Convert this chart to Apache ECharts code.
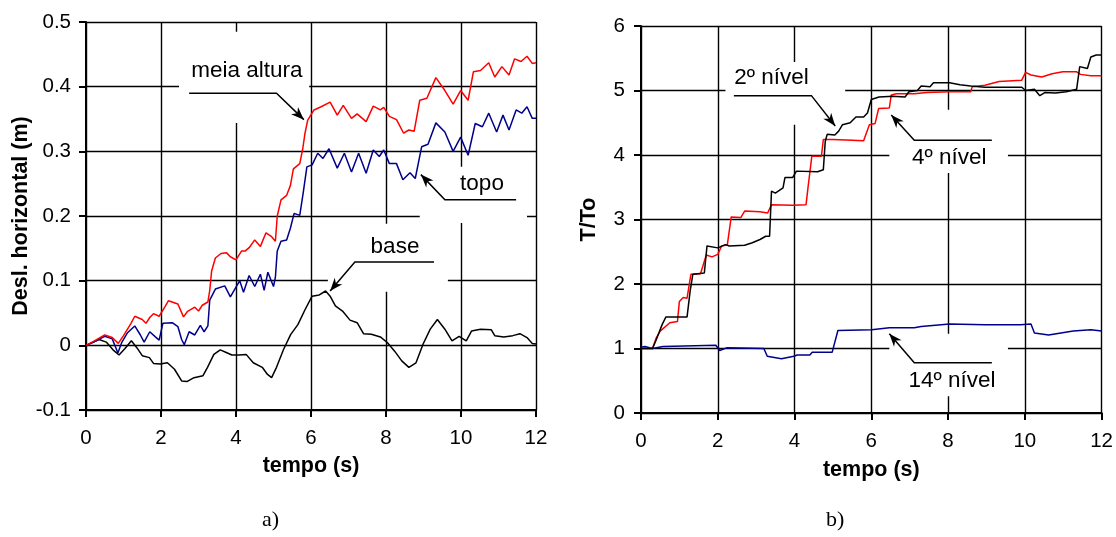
<!DOCTYPE html>
<html><head><meta charset="utf-8">
<script src="https://cdn.jsdelivr.net/npm/echarts/dist/echarts.min.js"></script>
<style>html,body{margin:0;padding:0;background:#fff}#c{width:1116px;height:537px}</style>
</head><body><div id="c"></div>
<script>
// ---------- DATA: chart a) ----------
const yTicksA = ['-0.1','0','0.1','0.2','0.3','0.4','0.5'];
const xTicks = ['0','2','4','6','8','10','12'];
const tMeia = [0,0.2,0.5,0.7,0.86,1.0,1.2,1.3,1.5,1.6,1.7,1.8,1.95,2.1,2.2,2.45,2.6,2.7,2.9,3.0,3.1,3.25,3.3,3.35,3.45,3.6,3.75,3.85,4.0,4.15,4.25,4.35,4.5,4.65,4.8,4.95,5.05,5.1,5.2,5.35,5.45,5.53,5.7,5.78,5.84,5.91,6.08,6.27,6.51,6.7,6.86,7.08,7.23,7.47,7.66,7.85,7.94,8.09,8.28,8.47,8.61,8.75,8.9,9.09,9.33,9.57,9.79,9.99,10.19,10.33,10.52,10.74,10.9,11.09,11.28,11.43,11.6,11.76,11.9,12];
const dMeia = [0,0.006,0.016,0.012,0.003,0.015,0.034,0.045,0.04,0.034,0.043,0.049,0.045,0.059,0.069,0.064,0.044,0.052,0.059,0.053,0.062,0.067,0.085,0.115,0.135,0.142,0.143,0.137,0.132,0.146,0.146,0.151,0.163,0.153,0.174,0.168,0.161,0.2,0.225,0.232,0.247,0.273,0.281,0.304,0.328,0.348,0.364,0.369,0.376,0.356,0.371,0.351,0.358,0.346,0.37,0.364,0.368,0.354,0.349,0.328,0.333,0.331,0.379,0.382,0.414,0.394,0.373,0.394,0.379,0.423,0.425,0.437,0.415,0.431,0.418,0.443,0.439,0.447,0.436,0.437];
const tTopo = [0,0.2,0.5,0.7,0.85,0.95,1.1,1.3,1.45,1.55,1.7,1.85,1.95,2.05,2.3,2.45,2.55,2.62,2.75,2.9,3.05,3.15,3.25,3.3,3.45,3.7,3.85,4.0,4.1,4.2,4.35,4.5,4.65,4.75,4.85,5.0,5.05,5.1,5.2,5.35,5.45,5.55,5.7,5.79,5.89,6.03,6.18,6.32,6.48,6.7,6.89,7.08,7.27,7.47,7.66,7.82,7.94,8.09,8.28,8.45,8.64,8.78,8.95,9.12,9.33,9.57,9.79,9.99,10.19,10.38,10.57,10.74,10.95,11.12,11.28,11.47,11.62,11.76,11.9,12];
const dTopo = [0,0.005,0.014,0.01,-0.012,0.004,0.019,0.03,0.016,0.005,0.021,0.013,0.008,0.034,0.035,0.029,0.009,0.001,0.021,0.016,0.031,0.021,0.03,0.07,0.087,0.092,0.075,0.09,0.1,0.082,0.108,0.091,0.11,0.085,0.113,0.091,0.105,0.146,0.161,0.163,0.181,0.204,0.201,0.235,0.276,0.279,0.297,0.289,0.304,0.274,0.297,0.268,0.297,0.266,0.302,0.292,0.302,0.281,0.281,0.256,0.267,0.258,0.307,0.311,0.344,0.33,0.3,0.322,0.294,0.343,0.338,0.359,0.33,0.356,0.333,0.364,0.359,0.369,0.351,0.351];
const tBase = [0,0.35,0.54,0.72,0.88,1.04,1.21,1.36,1.5,1.69,1.8,1.98,2.17,2.36,2.55,2.69,2.88,3.12,3.24,3.41,3.58,3.74,3.89,4.08,4.27,4.46,4.7,4.84,4.95,5.08,5.27,5.46,5.65,5.84,6.03,6.22,6.39,6.51,6.65,6.84,7.04,7.23,7.4,7.61,7.85,8.04,8.23,8.42,8.61,8.8,8.99,9.18,9.37,9.57,9.76,9.95,10.14,10.28,10.52,10.81,10.9,11.14,11.38,11.57,11.76,11.9,12];
const dBase = [0,0.009,0.005,-0.007,-0.015,-0.005,0.007,-0.004,-0.016,-0.019,-0.028,-0.029,-0.027,-0.037,-0.055,-0.056,-0.05,-0.047,-0.034,-0.014,-0.007,-0.011,-0.015,-0.015,-0.014,-0.027,-0.034,-0.045,-0.05,-0.034,-0.006,0.017,0.032,0.055,0.076,0.078,0.084,0.076,0.061,0.053,0.039,0.035,0.018,0.017,0.013,0.004,-0.009,-0.024,-0.034,-0.027,0.002,0.025,0.04,0.025,0.007,0.014,0.007,0.022,0.025,0.024,0.015,0.013,0.015,0.018,0.012,0.003,0.002];

// ---------- DATA: chart b) ----------
const yTicksB = ['0','1','2','3','4','5','6'];
const tN2 = [0,0.3,0.4,0.55,0.65,1.2,1.28,1.35,1.65,1.72,2.0,2.2,2.3,2.7,2.9,3.1,3.25,3.35,3.4,3.5,3.7,3.75,3.95,4.05,4.6,4.75,4.8,4.85,5.05,5.15,5.25,5.45,5.6,5.8,5.9,6.0,6.2,6.56,6.88,6.98,7.2,7.3,7.53,7.62,8.04,8.31,8.59,8.96,9.92,10.02,10.25,10.39,10.53,10.8,11.08,11.35,11.43,11.63,11.72,11.86,12];
const rN2 = [1.0,1.0,1.14,1.37,1.49,1.49,1.89,2.15,2.17,2.59,2.56,2.61,2.59,2.6,2.64,2.69,2.74,2.74,3.44,3.41,3.49,3.65,3.65,3.75,3.74,3.77,4.21,4.32,4.31,4.37,4.47,4.5,4.59,4.59,4.65,4.86,4.9,4.91,4.9,4.98,5.0,5.07,5.06,5.12,5.12,5.09,5.07,5.05,5.05,5.0,5.02,4.92,4.97,4.96,4.98,5.02,5.37,5.34,5.52,5.55,5.55];
const tN4 = [0,0.3,0.4,0.5,0.75,0.95,1.0,1.1,1.2,1.3,1.55,1.7,1.85,2.0,2.1,2.25,2.35,2.6,2.7,3.1,3.3,3.4,3.95,4.3,4.35,4.45,4.7,4.75,5.0,5.5,5.8,5.95,6.1,6.15,6.19,6.47,6.52,6.65,7.12,7.44,8.04,8.59,8.63,8.96,9.33,9.92,10.02,10.16,10.44,10.71,10.99,11.35,11.45,11.72,12];
const rN4 = [1.0,1.0,1.17,1.27,1.4,1.42,1.73,1.79,1.78,2.15,2.16,2.45,2.42,2.46,2.59,2.61,3.04,3.03,3.13,3.12,3.1,3.23,3.22,3.23,3.49,3.98,3.98,4.24,4.24,4.23,4.22,4.47,4.49,4.46,4.72,4.73,4.93,4.95,4.95,4.97,4.98,4.98,5.06,5.08,5.14,5.16,5.28,5.24,5.21,5.26,5.29,5.29,5.25,5.23,5.23];
const tN14 = [0,0.1,0.3,0.57,1.95,2.05,2.23,3.2,3.29,3.66,3.98,4.07,4.4,4.46,4.98,5.13,6.01,6.47,7.12,7.3,8.04,8.96,9.88,10.16,10.25,10.62,11.26,11.72,12];
const rN14 = [1.02,1.03,1.0,1.03,1.05,0.97,1.01,1.0,0.88,0.84,0.88,0.9,0.9,0.94,0.94,1.28,1.29,1.32,1.32,1.34,1.38,1.37,1.37,1.38,1.24,1.21,1.27,1.29,1.27];

// ---------- Annotations (data coordinates) ----------
const annotations = [
  {grid:0, text:'meia altura', textAt:[4.29,0.424], box:[[2.48,0.485],[5.95,0.344]], path:[[2.75,0.39],[5.08,0.39],[5.81,0.349]]},
  {grid:0, text:'topo', textAt:[10.56,0.25], box:[[8.9,0.276],[11.76,0.189]], path:[[11.47,0.225],[9.57,0.225],[8.93,0.264]]},
  {grid:0, text:'base', textAt:[8.24,0.152], box:[[6.45,0.188],[9.65,0.083]], path:[[9.28,0.129],[7.17,0.129],[6.51,0.084]]},
  {grid:1, text:'2º nível', textAt:[3.4,5.19], box:[[2.2,5.44],[5.32,4.47]], path:[[2.42,4.92],[4.44,4.92],[5.06,4.45]]},
  {grid:1, text:'4º nível', textAt:[8.03,3.95], box:[[6.47,4.7],[9.56,3.72]], path:[[9.14,4.23],[7.12,4.23],[6.52,4.62]]},
  {grid:1, text:'14º nível', textAt:[8.1,0.5], box:[[6.47,1.23],[9.56,0.26]], path:[[9.14,0.78],[7.12,0.78],[6.47,1.23]]}
];

const zip = (t, v) => t.map((x, i) => [x, v[i]]);
const FONT = '"Liberation Sans", Arial, sans-serif';
const axisCommonX = (gi, nameGap) => ({
  type:'value', gridIndex:gi, min:0, max:12, interval:2,
  axisLine:{show:true, onZero:false, lineStyle:{color:'#000', width:2}},
  axisTick:{show:true, length:7, inside:false, lineStyle:{color:'#000', width:2}},
  splitLine:{show:true, lineStyle:{color:'#000', width:1.4}},
  axisLabel:{color:'#000', fontSize:20.5, fontFamily:FONT, margin:18, formatter:(v,i)=>xTicks[i]},
  name:'tempo (s)', nameLocation:'middle', nameGap:nameGap,
  nameTextStyle:{color:'#000', fontSize:21.5, fontWeight:'bold', fontFamily:FONT}
});
const lineSeries = (data, color, xi) => ({
  type:'line', data, xAxisIndex:xi, yAxisIndex:xi, showSymbol:false, symbol:'none',
  lineStyle:{color, width:1.5}, z:3, animation:false, silent:true
});

const chart = echarts.init(document.getElementById('c'), null, {renderer:'canvas'});
chart.setOption({
  animation:false,
  backgroundColor:'#fff',
  grid:[
    {left:86, top:22, width:450, height:388},
    {left:641, top:26, width:462, height:387}
  ],
  xAxis:[axisCommonX(0, 45), axisCommonX(1, 46)],
  yAxis:[
    {type:'value', gridIndex:0, min:-0.1, max:0.5, interval:0.1,
     axisLine:{show:true, onZero:false, lineStyle:{color:'#000', width:2}},
     axisTick:{show:true, length:7, lineStyle:{color:'#000', width:2}},
     splitLine:{show:true, lineStyle:{color:'#000', width:1.4}},
     axisLabel:{color:'#000', fontSize:20.5, fontFamily:FONT, margin:15, formatter:(v,i)=>yTicksA[i]},
     name:'Desl. horizontal (m)', nameLocation:'middle', nameGap:54,
     nameTextStyle:{color:'#000', fontSize:21.5, fontWeight:'bold', fontFamily:FONT}},
    {type:'value', gridIndex:1, min:0, max:6, interval:1,
     axisLine:{show:true, onZero:false, lineStyle:{color:'#000', width:2}},
     axisTick:{show:true, length:7, lineStyle:{color:'#000', width:2}},
     splitLine:{show:true, lineStyle:{color:'#000', width:1.4}},
     axisLabel:{color:'#000', fontSize:20.5, fontFamily:FONT, margin:16, formatter:(v,i)=>yTicksB[i]},
     name:'T/To', nameLocation:'middle', nameGap:41,
     nameTextStyle:{color:'#000', fontSize:21.5, fontWeight:'bold', fontFamily:FONT}}
  ],
  series:[
    lineSeries(zip(tBase, dBase), '#000000', 0),
    lineSeries(zip(tTopo, dTopo), '#00008B', 0),
    lineSeries(zip(tMeia, dMeia), '#FF0000', 0),
    lineSeries(zip(tN14, rN14), '#00008B', 1),
    lineSeries(zip(tN4, rN4), '#FF0000', 1),
    lineSeries(zip(tN2, rN2), '#000000', 1)
  ]
});

// ---------- annotation graphics, positioned through the axes ----------
const g = [];
annotations.forEach(a => {
  const P = p => chart.convertToPixel({gridIndex:a.grid}, p);
  const b0 = P(a.box[0]), b1 = P(a.box[1]);
  g.push({type:'rect', z:1, silent:true,
    shape:{x:Math.min(b0[0],b1[0]), y:Math.min(b0[1],b1[1]), width:Math.abs(b1[0]-b0[0]), height:Math.abs(b1[1]-b0[1])},
    style:{fill:'#fff'}});
  const pts = a.path.map(P);
  g.push({type:'polyline', z:10, silent:true, shape:{points:pts}, style:{stroke:'#000', lineWidth:1.5, fill:null}});
  const tip = pts[pts.length-1], prev = pts[pts.length-2];
  const dx = tip[0]-prev[0], dy = tip[1]-prev[1], L = Math.hypot(dx,dy);
  const ux = dx/L, uy = dy/L, al = 13, aw = 5;
  const bx = tip[0]-ux*al, by = tip[1]-uy*al;
  g.push({type:'polygon', z:11, silent:true,
    shape:{points:[tip,[bx-uy*aw, by+ux*aw],[tip[0]-ux*al*0.7, tip[1]-uy*al*0.7],[bx+uy*aw, by-ux*aw]]},
    style:{fill:'#000'}});
  const tp = P(a.textAt);
  g.push({type:'text', z:12, silent:true, x:tp[0], y:tp[1],
    style:{text:a.text, font:'22.5px ' + FONT, fill:'#000', align:'center', verticalAlign:'middle', textAlign:'center', textVerticalAlign:'middle'}});
});
g.push({type:'text', left:262, top:509, silent:true, style:{text:'a)', font:'22px "Liberation Serif", "Times New Roman", serif', fill:'#000'}});
g.push({type:'text', left:826, top:509, silent:true, style:{text:'b)', font:'22px "Liberation Serif", "Times New Roman", serif', fill:'#000'}});
chart.setOption({graphic:{elements:g}});
</script></body></html>
